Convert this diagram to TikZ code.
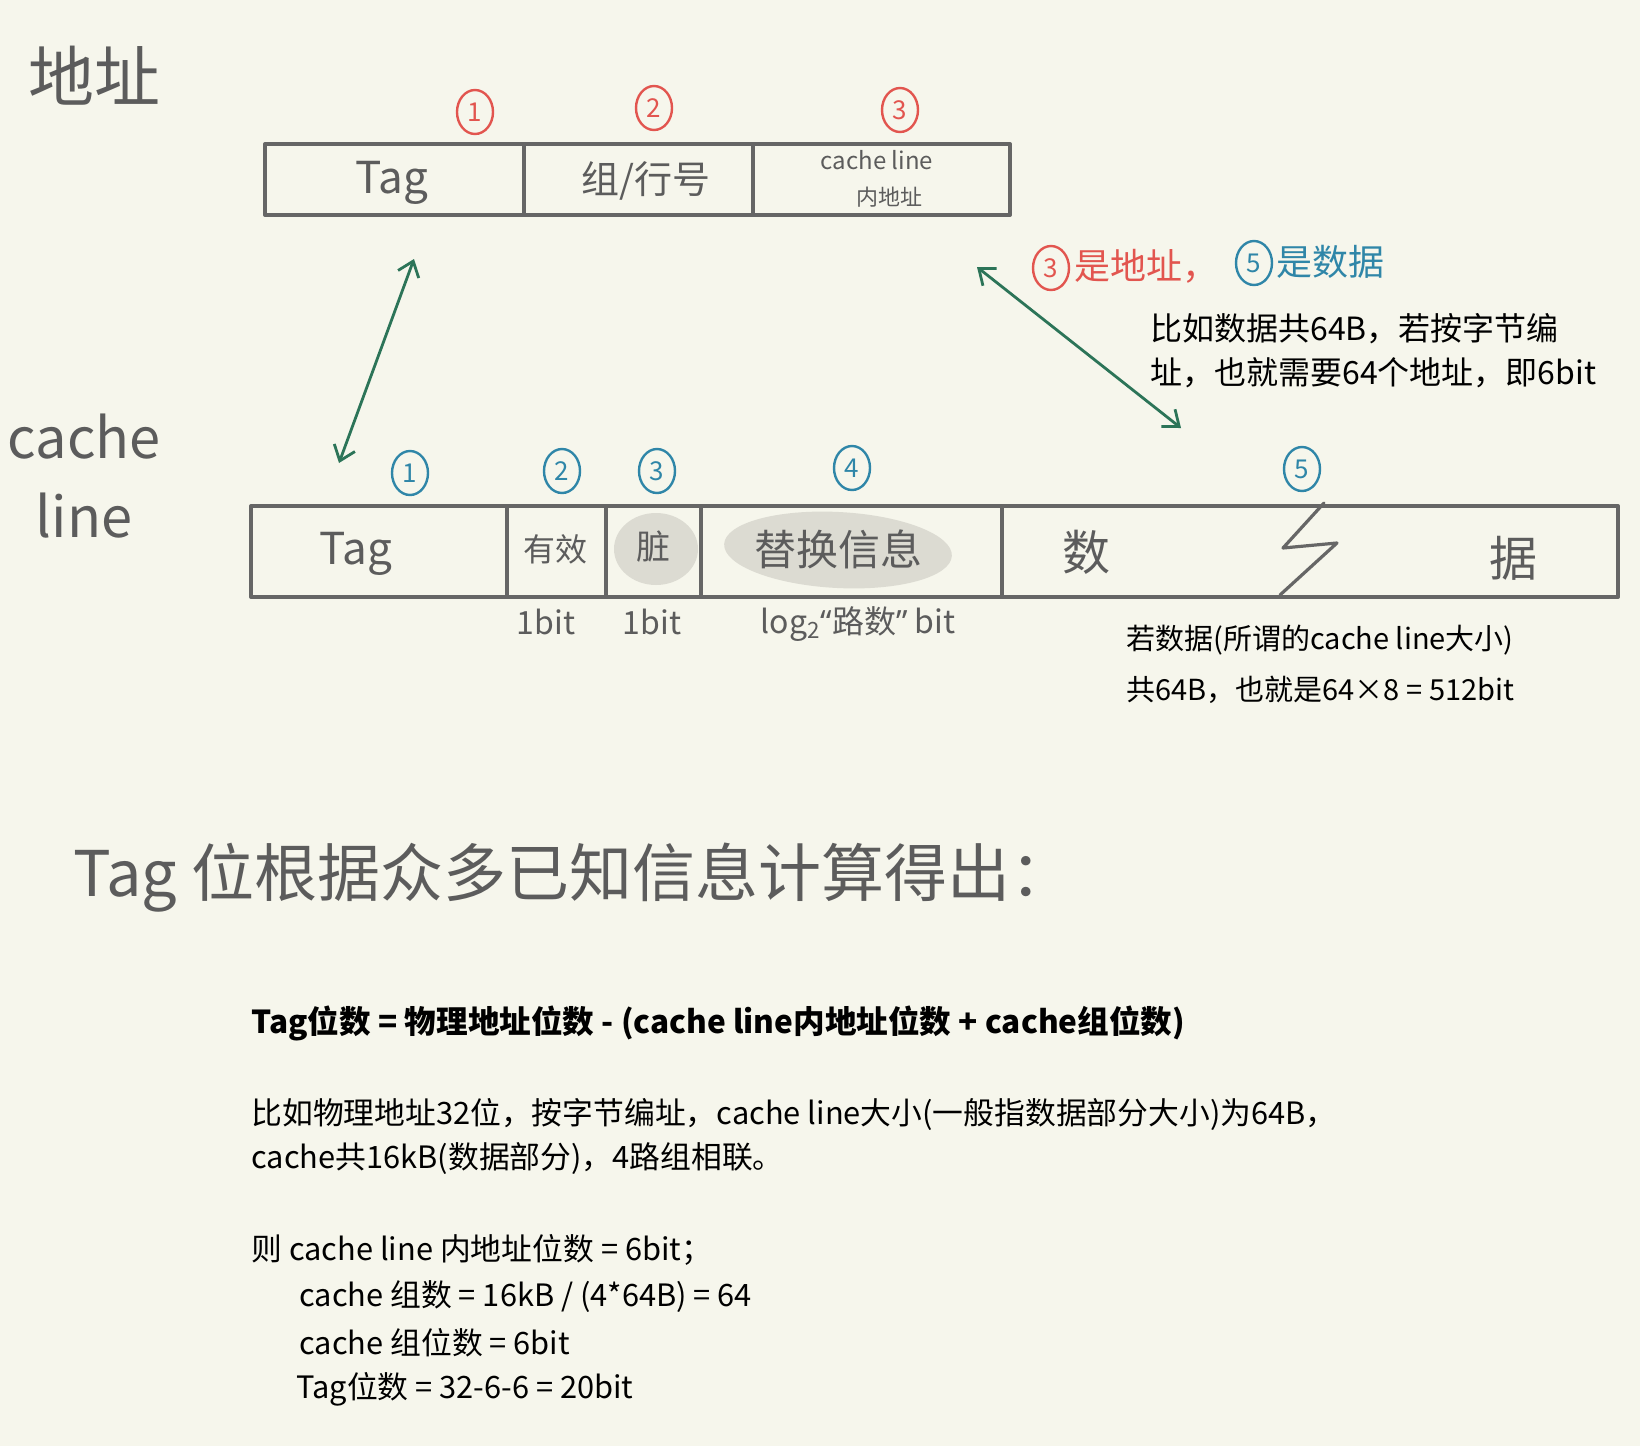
\documentclass[tikz,border=0pt]{standalone}
\usepackage{fontspec}
\setmainfont{Noto Sans CJK SC}
\newfontfamily\quotefont{Noto Sans}
\usetikzlibrary{arrows.meta,shapes.geometric}
\definecolor{paper}{HTML}{F6F6EC}
\definecolor{pen}{HTML}{666666}
\definecolor{ink}{HTML}{5C5C5C}
\definecolor{redpen}{HTML}{E2554F}
\definecolor{bluepen}{HTML}{2F86A8}
\definecolor{greenpen}{HTML}{2C7458}
\definecolor{smudge}{HTML}{DCDBD2}
\newcommand{\fs}[1]{\fontsize{#1}{#1}\selectfont}
\begin{document}
\begin{tikzpicture}[x=0.5pt,y=-0.5pt,line cap=round,line join=round,
  hand/.style={text=ink,inner sep=0pt},
  note/.style={inner sep=0pt,anchor=west,text=black},
  num/.style={ellipse,draw=#1,text=#1,line width=1.2pt,inner sep=0pt,minimum width=18pt,minimum height=22pt,font=\fs{13}},
  link/.style={draw=greenpen,line width=1.4pt,{Straight Barb[length=7pt,width=11pt]}-{Straight Barb[length=7pt,width=11pt]}}]
  \fill[paper] (0,0) rectangle (1640,1446);
  \useasboundingbox (0,0) rectangle (1640,1446);

  % address
  \node[hand,font=\fs{33}] (addr) at (94,76) {地址};
  \draw[pen,line width=2pt] (265,144) rectangle (1010,215);
  \draw[pen,line width=1.6pt] (524,144) -- (524,215) (753,144) -- (753,215);
  \node[hand,font=\fs{22}] (atag) at (392,183) {Tag};
  \node[hand,font=\fs{19}] (aset) at (646,181) {组/行号};
  \node[hand,font=\fs{12}] (aoff) at (877,160) {cache line};
  \node[hand,font=\fs{11}] (aoffb) at (889,197) {内地址};
  \node[num=redpen] (r1) at (475,112) {1};
  \node[num=redpen] (r2) at (654,108) {2};
  \node[num=redpen] (r3) at (900,110) {3};

  % cache line
  \node[hand,font=\fs{28}] (cl) at (84,437) {cache};
  \node[hand,font=\fs{28}] (ln) at (84,516) {line};
  \fill[smudge] (656,549) ellipse (21pt and 18pt);
  \fill[smudge,rotate around={-3:(838,550)}] (838,550) ellipse (57pt and 19pt);
  \draw[pen,line width=2pt] (251,506) rectangle (1618,597);
  \draw[pen,line width=1.6pt] (507,506) -- (507,597) (606,506) -- (606,597)
    (701,506) -- (701,597) (1002,506) -- (1002,597);
  \draw[pen,line width=1.6pt] (1324,503) -- (1283,548) -- (1337,543) -- (1280,595);
  \node[hand,font=\fs{22}] (ctag) at (356,554) {Tag};
  \node[hand,font=\fs{16}] (valid) at (555,549) {有效};
  \node[hand,font=\fs{17}] (dirty) at (653,547) {脏};
  \node[hand,font=\fs{21}] (repl) at (838,549) {替换信息};
  \node[hand,font=\fs{24}] (data1) at (1086,552) {数};
  \node[hand,font=\fs{24}] (data2) at (1513,558) {据};
  \node[num=bluepen] (b1) at (410,473) {1};
  \node[num=bluepen] (b2) at (562,471) {2};
  \node[num=bluepen] (b3) at (657,471) {3};
  \node[num=bluepen] (b4) at (852,468) {4};
  \node[num=bluepen] (b5) at (1302,469) {5};
  \node[hand,font=\fs{16}] (vbit) at (546,622) {1bit};
  \node[hand,font=\fs{16}] (dbit) at (652,622) {1bit};
  \node[hand,font=\fs{16}] (rbit) at (858,624) {log\textsubscript{2}{\quotefont “}路数{\quotefont ”} bit};

  % links
  \coordinate (tagup) at (414,259);
  \coordinate (tagdn) at (339,463);
  \coordinate (offup) at (977,267);
  \coordinate (offdn) at (1181,428);
  \draw[link] (tagup) -- (tagdn);
  \draw[link] (offup) -- (offdn);

  % notes
  \node[num=redpen] (r3b) at (1051,268) {3};
  \node[note,text=redpen,font=\fs{18}] (isaddr) at (1074,266) {是地址，};
  \node[num=bluepen] (b5b) at (1254,263) {5};
  \node[note,text=bluepen,font=\fs{18}] (isdata) at (1276,262) {是数据};
  \node[note,font=\fs{16}] (n1a) at (1150,329) {比如数据共64B，若按字节编};
  \node[note,font=\fs{16}] (n1b) at (1150,373) {址，也就需要64个地址，即6bit};
  \node[note,font=\fs{14.5}] (n2a) at (1126,640) {若数据(所谓的cache line大小)};
  \node[note,font=\fs{14.5}] (n2b) at (1126,690) {共64B，也就是64×8 = 512bit};

  % tag
  \node[hand,anchor=west,font=\fs{31.5}] (title) at (73,878) {Tag 位根据众多已知信息计算得出：};
  \node[note,font=\fs{15.8}\bfseries] (f1) at (251,1023) {Tag位数 = 物理地址位数 - (cache line内地址位数 + cache组位数)};
  \node[note,font=\fs{15.4}] (f2) at (251,1114) {比如物理地址32位，按字节编址，cache line大小(一般指数据部分大小)为64B，};
  \node[note,font=\fs{15.4}] (f3) at (251,1159) {cache共16kB(数据部分)，4路组相联。};
  \node[note,font=\fs{15.4}] (f4) at (251,1250) {则 cache line 内地址位数 = 6bit；};
  \node[note,font=\fs{15.4}] (f5) at (299,1297) {cache 组数 = 16kB / (4*64B) = 64};
  \node[note,font=\fs{15.4}] (f6) at (299,1343) {cache 组位数 = 6bit};
  \node[note,font=\fs{15.4}] (f7) at (296,1389) {Tag位数 = 32-6-6 = 20bit};
\end{tikzpicture}
\end{document}
